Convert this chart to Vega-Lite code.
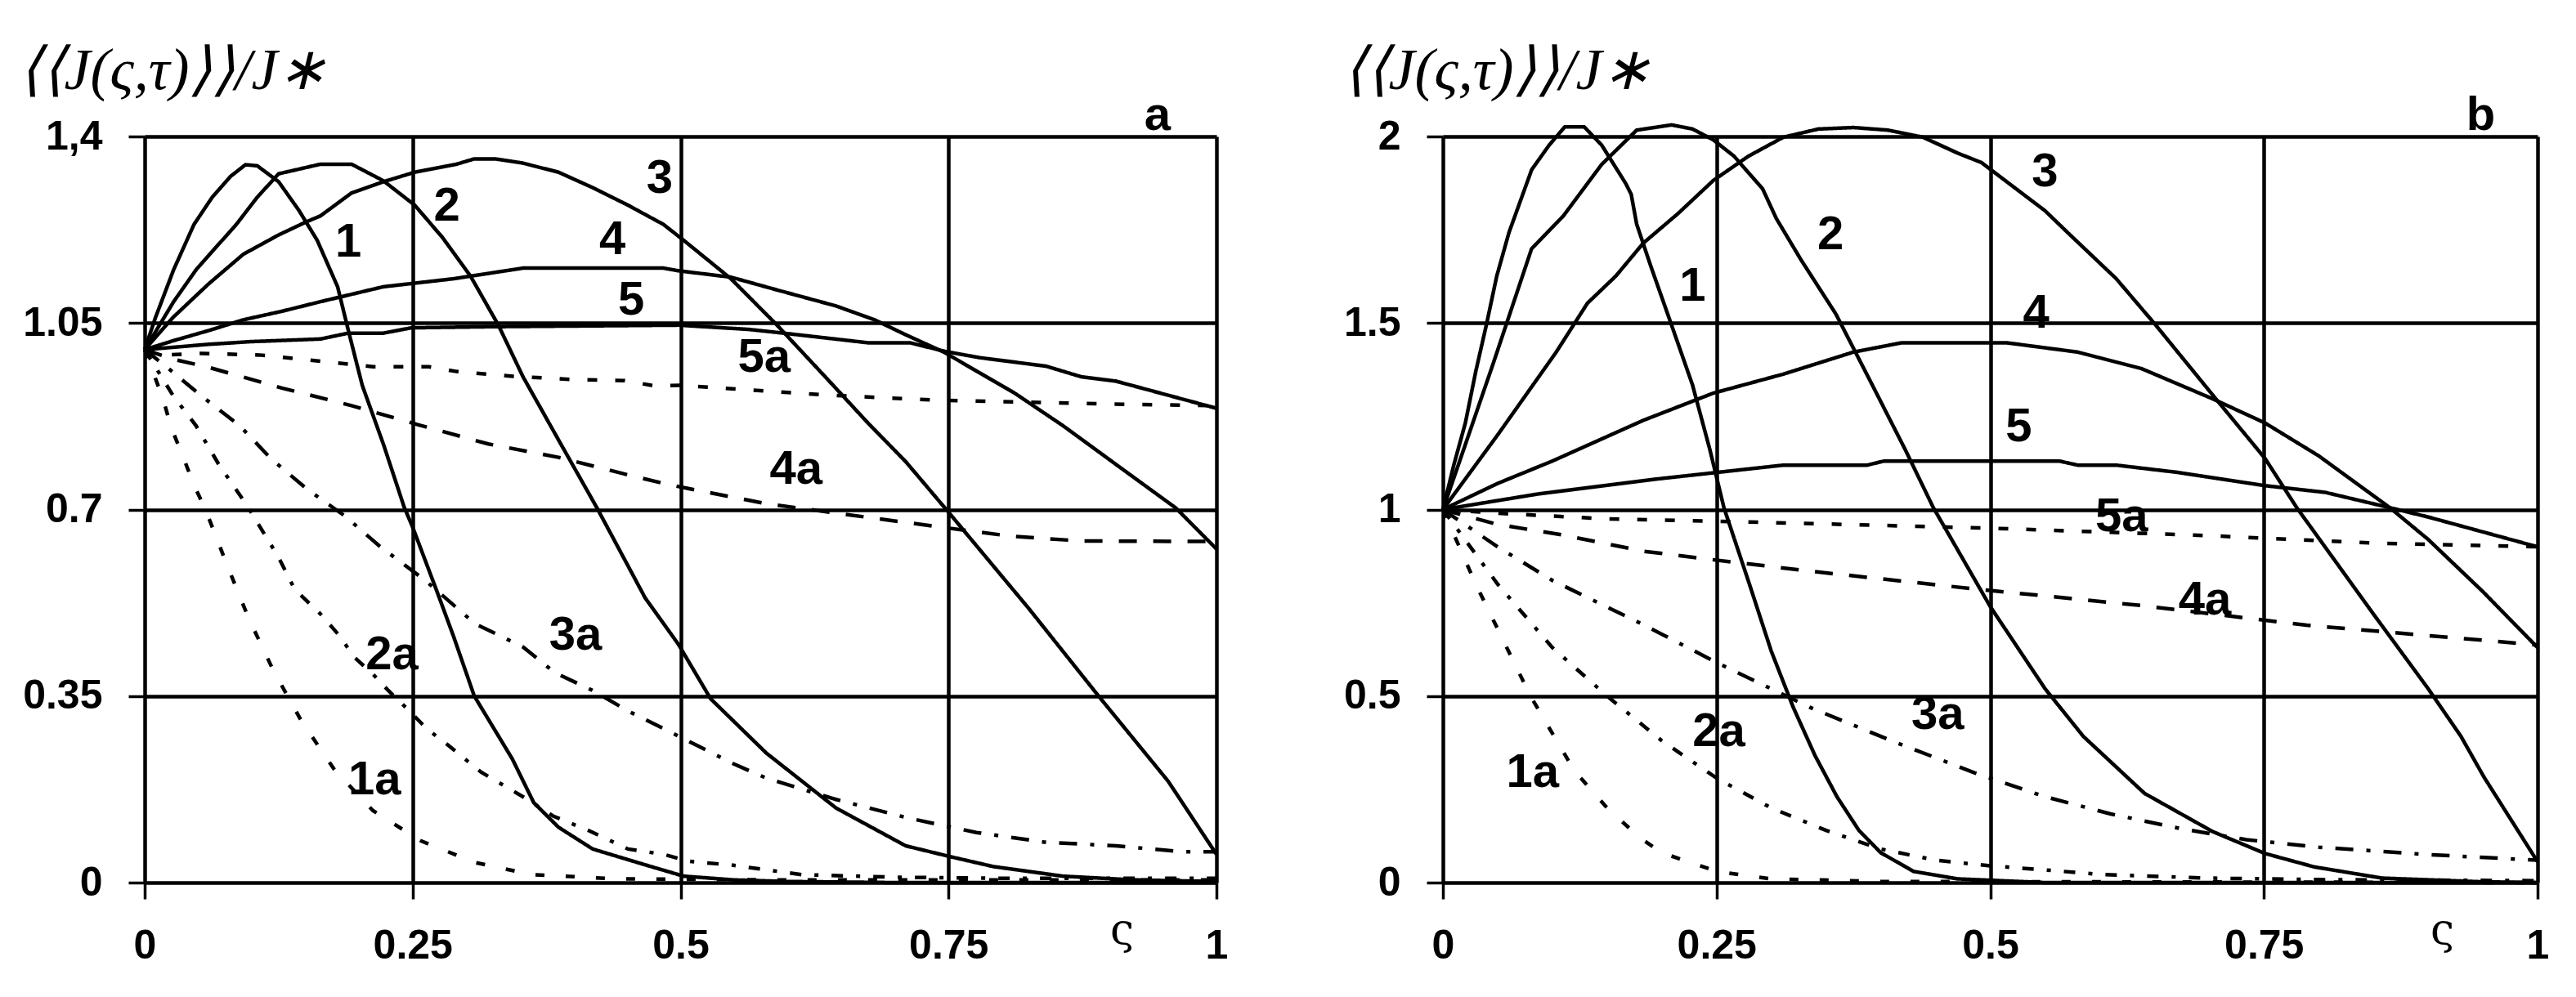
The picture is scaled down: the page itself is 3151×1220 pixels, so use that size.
{
  "$schema": "https://vega.github.io/schema/vega-lite/v6.json",
  "background": "white",
  "padding": {"left": 22, "top": 50, "right": 10, "bottom": 10},
  "config": {
    "view": {"stroke": null},
    "concat": {"spacing": 140},
    "axis": {
      "grid": true, "gridColor": "black", "gridWidth": 4.5, "gridOpacity": 1,
      "domain": false, "tickColor": "black", "tickWidth": 3.5, "tickSize": 20,
      "labelFont": "Liberation Sans", "labelFontWeight": "bold", "labelFontSize": 50,
      "labelColor": "black", "labelPadding": 32, "labelOverlap": false, "labelFlush": false,
      "format": "~g"
    }
  },
  "datasets": {
    "a": [
      {"c":"1","x":0,"y":1.0},{"c":"1","x":0.01,"y":1.06},{"c":"1","x":0.027,"y":1.15},{"c":"1","x":0.046,"y":1.235},{"c":"1","x":0.063,"y":1.286},{"c":"1","x":0.08,"y":1.325},{"c":"1","x":0.094,"y":1.347},{"c":"1","x":0.105,"y":1.345},{"c":"1","x":0.125,"y":1.315},{"c":"1","x":0.144,"y":1.261},{"c":"1","x":0.161,"y":1.205},{"c":"1","x":0.18,"y":1.118},{"c":"1","x":0.19,"y":1.036},{"c":"1","x":0.203,"y":0.933},{"c":"1","x":0.223,"y":0.821},{"c":"1","x":0.242,"y":0.705},{"c":"1","x":0.25,"y":0.667},{"c":"1","x":0.272,"y":0.55},{"c":"1","x":0.288,"y":0.463},{"c":"1","x":0.3075,"y":0.35},{"c":"1","x":0.343,"y":0.232},{"c":"1","x":0.363,"y":0.15},{"c":"1","x":0.386,"y":0.104},{"c":"1","x":0.418,"y":0.063},{"c":"1","x":0.4675,"y":0.033},{"c":"1","x":0.503,"y":0.012},{"c":"1","x":0.55,"y":0.005},{"c":"1","x":0.6,"y":0.002},{"c":"1","x":0.7,"y":0.0},{"c":"1","x":1.0,"y":0.0},
      {"c":"2","x":0,"y":1.0},{"c":"2","x":0.027,"y":1.09},{"c":"2","x":0.048,"y":1.15},{"c":"2","x":0.07,"y":1.2},{"c":"2","x":0.0855,"y":1.235},{"c":"2","x":0.105,"y":1.286},{"c":"2","x":0.125,"y":1.33},{"c":"2","x":0.164,"y":1.348},{"c":"2","x":0.193,"y":1.348},{"c":"2","x":0.2226,"y":1.317},{"c":"2","x":0.252,"y":1.271},{"c":"2","x":0.278,"y":1.21},{"c":"2","x":0.304,"y":1.138},{"c":"2","x":0.33,"y":1.046},{"c":"2","x":0.353,"y":0.949},{"c":"2","x":0.386,"y":0.831},{"c":"2","x":0.422,"y":0.703},{"c":"2","x":0.467,"y":0.534},{"c":"2","x":0.498,"y":0.447},{"c":"2","x":0.528,"y":0.345},{"c":"2","x":0.58,"y":0.243},{"c":"2","x":0.645,"y":0.14},{"c":"2","x":0.71,"y":0.069},{"c":"2","x":0.753,"y":0.048},{"c":"2","x":0.792,"y":0.03},{"c":"2","x":0.857,"y":0.012},{"c":"2","x":0.923,"y":0.005},{"c":"2","x":1.0,"y":0.002},
      {"c":"3","x":0,"y":1.0},{"c":"3","x":0.0267,"y":1.061},{"c":"3","x":0.0594,"y":1.123},{"c":"3","x":0.092,"y":1.179},{"c":"3","x":0.1247,"y":1.215},{"c":"3","x":0.151,"y":1.24},{"c":"3","x":0.164,"y":1.251},{"c":"3","x":0.193,"y":1.294},{"c":"3","x":0.2226,"y":1.315},{"c":"3","x":0.252,"y":1.333},{"c":"3","x":0.291,"y":1.348},{"c":"3","x":0.3075,"y":1.358},{"c":"3","x":0.327,"y":1.358},{"c":"3","x":0.353,"y":1.35},{"c":"3","x":0.386,"y":1.333},{"c":"3","x":0.418,"y":1.304},{"c":"3","x":0.451,"y":1.271},{"c":"3","x":0.484,"y":1.235},{"c":"3","x":0.503,"y":1.205},{"c":"3","x":0.547,"y":1.133},{"c":"3","x":0.59,"y":1.046},{"c":"3","x":0.635,"y":0.949},{"c":"3","x":0.675,"y":0.862},{"c":"3","x":0.71,"y":0.79},{"c":"3","x":0.75,"y":0.695},{"c":"3","x":0.825,"y":0.514},{"c":"3","x":0.89,"y":0.35},{"c":"3","x":0.955,"y":0.19},{"c":"3","x":1.0,"y":0.053},
      {"c":"4","x":0,"y":1.0},{"c":"4","x":0.027,"y":1.017},{"c":"4","x":0.06,"y":1.036},{"c":"4","x":0.092,"y":1.056},{"c":"4","x":0.128,"y":1.072},{"c":"4","x":0.164,"y":1.09},{"c":"4","x":0.2226,"y":1.118},{"c":"4","x":0.288,"y":1.133},{"c":"4","x":0.353,"y":1.153},{"c":"4","x":0.42,"y":1.153},{"c":"4","x":0.484,"y":1.153},{"c":"4","x":0.498,"y":1.148},{"c":"4","x":0.547,"y":1.136},{"c":"4","x":0.59,"y":1.112},{"c":"4","x":0.645,"y":1.082},{"c":"4","x":0.681,"y":1.056},{"c":"4","x":0.71,"y":1.028},{"c":"4","x":0.746,"y":0.995},{"c":"4","x":0.812,"y":0.918},{"c":"4","x":0.857,"y":0.857},{"c":"4","x":0.906,"y":0.785},{"c":"4","x":0.962,"y":0.703},{"c":"4","x":1.0,"y":0.626},
      {"c":"5","x":0,"y":1.0},{"c":"5","x":0.03,"y":1.005},{"c":"5","x":0.0594,"y":1.01},{"c":"5","x":0.0986,"y":1.015},{"c":"5","x":0.164,"y":1.02},{"c":"5","x":0.19,"y":1.031},{"c":"5","x":0.2226,"y":1.031},{"c":"5","x":0.249,"y":1.041},{"c":"5","x":0.32,"y":1.043},{"c":"5","x":0.498,"y":1.046},{"c":"5","x":0.5636,"y":1.038},{"c":"5","x":0.596,"y":1.031},{"c":"5","x":0.6746,"y":1.013},{"c":"5","x":0.714,"y":1.013},{"c":"5","x":0.746,"y":0.997},{"c":"5","x":0.779,"y":0.985},{"c":"5","x":0.841,"y":0.969},{"c":"5","x":0.874,"y":0.949},{"c":"5","x":0.906,"y":0.941},{"c":"5","x":1.0,"y":0.89},
      {"c":"5a","x":0,"y":1.0},{"c":"5a","x":0.02,"y":0.99},{"c":"5a","x":0.053,"y":0.993},{"c":"5a","x":0.107,"y":0.99},{"c":"5a","x":0.1746,"y":0.976},{"c":"5a","x":0.2128,"y":0.968},{"c":"5a","x":0.265,"y":0.968},{"c":"5a","x":0.291,"y":0.959},{"c":"5a","x":0.3434,"y":0.95},{"c":"5a","x":0.399,"y":0.944},{"c":"5a","x":0.448,"y":0.942},{"c":"5a","x":0.4756,"y":0.932},{"c":"5a","x":0.5,"y":0.933},{"c":"5a","x":0.635,"y":0.915},{"c":"5a","x":0.74,"y":0.905},{"c":"5a","x":0.897,"y":0.898},{"c":"5a","x":1.0,"y":0.895},
      {"c":"4a","x":0,"y":1.0},{"c":"4a","x":0.0267,"y":0.982},{"c":"4a","x":0.0594,"y":0.967},{"c":"4a","x":0.128,"y":0.928},{"c":"4a","x":0.193,"y":0.895},{"c":"4a","x":0.2553,"y":0.859},{"c":"4a","x":0.3206,"y":0.823},{"c":"4a","x":0.386,"y":0.798},{"c":"4a","x":0.451,"y":0.765},{"c":"4a","x":0.484,"y":0.749},{"c":"4a","x":0.508,"y":0.739},{"c":"4a","x":0.58,"y":0.711},{"c":"4a","x":0.676,"y":0.685},{"c":"4a","x":0.743,"y":0.667},{"c":"4a","x":0.808,"y":0.65},{"c":"4a","x":0.874,"y":0.641},{"c":"4a","x":1.0,"y":0.64},
      {"c":"3a","x":0,"y":1.0},{"c":"3a","x":0.025,"y":0.96},{"c":"3a","x":0.053,"y":0.913},{"c":"3a","x":0.0888,"y":0.857},{"c":"3a","x":0.118,"y":0.795},{"c":"3a","x":0.151,"y":0.739},{"c":"3a","x":0.1867,"y":0.688},{"c":"3a","x":0.2193,"y":0.631},{"c":"3a","x":0.2618,"y":0.567},{"c":"3a","x":0.308,"y":0.486},{"c":"3a","x":0.353,"y":0.442},{"c":"3a","x":0.3826,"y":0.394},{"c":"3a","x":0.4185,"y":0.36},{"c":"3a","x":0.451,"y":0.322},{"c":"3a","x":0.484,"y":0.289},{"c":"3a","x":0.5147,"y":0.258},{"c":"3a","x":0.547,"y":0.225},{"c":"3a","x":0.58,"y":0.196},{"c":"3a","x":0.645,"y":0.156},{"c":"3a","x":0.7105,"y":0.122},{"c":"3a","x":0.776,"y":0.094},{"c":"3a","x":0.839,"y":0.076},{"c":"3a","x":0.906,"y":0.069},{"c":"3a","x":0.968,"y":0.058},{"c":"3a","x":1.0,"y":0.058},
      {"c":"2a","x":0,"y":1.0},{"c":"2a","x":0.0267,"y":0.913},{"c":"2a","x":0.048,"y":0.857},{"c":"2a","x":0.069,"y":0.785},{"c":"2a","x":0.0953,"y":0.708},{"c":"2a","x":0.1247,"y":0.611},{"c":"2a","x":0.14,"y":0.55},{"c":"2a","x":0.164,"y":0.504},{"c":"2a","x":0.1818,"y":0.463},{"c":"2a","x":0.195,"y":0.424},{"c":"2a","x":0.213,"y":0.391},{"c":"2a","x":0.2275,"y":0.36},{"c":"2a","x":0.247,"y":0.322},{"c":"2a","x":0.263,"y":0.289},{"c":"2a","x":0.283,"y":0.258},{"c":"2a","x":0.314,"y":0.207},{"c":"2a","x":0.353,"y":0.161},{"c":"2a","x":0.381,"y":0.125},{"c":"2a","x":0.415,"y":0.097},{"c":"2a","x":0.451,"y":0.063},{"c":"2a","x":0.484,"y":0.053},{"c":"2a","x":0.508,"y":0.04},{"c":"2a","x":0.547,"y":0.033},{"c":"2a","x":0.613,"y":0.015},{"c":"2a","x":0.7,"y":0.01},{"c":"2a","x":0.8,"y":0.008},{"c":"2a","x":1.0,"y":0.008},
      {"c":"1a","x":0,"y":1.0},{"c":"1a","x":0.017,"y":0.908},{"c":"1a","x":0.0251,"y":0.852},{"c":"1a","x":0.0366,"y":0.795},{"c":"1a","x":0.0463,"y":0.744},{"c":"1a","x":0.0561,"y":0.703},{"c":"1a","x":0.0774,"y":0.593},{"c":"1a","x":0.097,"y":0.496},{"c":"1a","x":0.1198,"y":0.399},{"c":"1a","x":0.146,"y":0.304},{"c":"1a","x":0.177,"y":0.212},{"c":"1a","x":0.213,"y":0.135},{"c":"1a","x":0.257,"y":0.079},{"c":"1a","x":0.3075,"y":0.038},{"c":"1a","x":0.361,"y":0.015},{"c":"1a","x":0.441,"y":0.007},{"c":"1a","x":0.6,"y":0.005},{"c":"1a","x":1.0,"y":0.005}
    ],
    "b": [
      {"c":"1","x":0,"y":1.0},{"c":"1","x":0.01,"y":1.12},{"c":"1","x":0.0205,"y":1.232},{"c":"1","x":0.03,"y":1.37},{"c":"1","x":0.0397,"y":1.495},{"c":"1","x":0.0492,"y":1.626},{"c":"1","x":0.0604,"y":1.743},{"c":"1","x":0.0811,"y":1.911},{"c":"1","x":0.0971,"y":1.977},{"c":"1","x":0.1114,"y":2.026},{"c":"1","x":0.129,"y":2.026},{"c":"1","x":0.145,"y":1.977},{"c":"1","x":0.167,"y":1.874},{"c":"1","x":0.172,"y":1.845},{"c":"1","x":0.177,"y":1.765},{"c":"1","x":0.1896,"y":1.655},{"c":"1","x":0.2088,"y":1.495},{"c":"1","x":0.228,"y":1.334},{"c":"1","x":0.244,"y":1.159},{"c":"1","x":0.2567,"y":1.005},{"c":"1","x":0.28,"y":0.8},{"c":"1","x":0.3,"y":0.62},{"c":"1","x":0.32,"y":0.47},{"c":"1","x":0.34,"y":0.34},{"c":"1","x":0.36,"y":0.23},{"c":"1","x":0.38,"y":0.14},{"c":"1","x":0.4,"y":0.08},{"c":"1","x":0.43,"y":0.03},{"c":"1","x":0.47,"y":0.01},{"c":"1","x":0.55,"y":0.0},{"c":"1","x":1.0,"y":0.0},
      {"c":"2","x":0,"y":1.0},{"c":"2","x":0.02,"y":1.17},{"c":"2","x":0.046,"y":1.392},{"c":"2","x":0.081,"y":1.699},{"c":"2","x":0.11,"y":1.787},{"c":"2","x":0.145,"y":1.925},{"c":"2","x":0.177,"y":2.017},{"c":"2","x":0.209,"y":2.031},{"c":"2","x":0.228,"y":2.02},{"c":"2","x":0.247,"y":1.991},{"c":"2","x":0.266,"y":1.947},{"c":"2","x":0.292,"y":1.86},{"c":"2","x":0.3046,"y":1.78},{"c":"2","x":0.327,"y":1.67},{"c":"2","x":0.359,"y":1.524},{"c":"2","x":0.391,"y":1.341},{"c":"2","x":0.4226,"y":1.159},{"c":"2","x":0.448,"y":1.005},{"c":"2","x":0.5,"y":0.74},{"c":"2","x":0.55,"y":0.52},{"c":"2","x":0.585,"y":0.392},{"c":"2","x":0.641,"y":0.239},{"c":"2","x":0.703,"y":0.137},{"c":"2","x":0.751,"y":0.078},{"c":"2","x":0.796,"y":0.042},{"c":"2","x":0.858,"y":0.012},{"c":"2","x":0.95,"y":0.002},{"c":"2","x":1.0,"y":0.0},
      {"c":"3","x":0,"y":1.0},{"c":"3","x":0.05,"y":1.2},{"c":"3","x":0.1035,"y":1.422},{"c":"3","x":0.132,"y":1.553},{"c":"3","x":0.158,"y":1.626},{"c":"3","x":0.183,"y":1.714},{"c":"3","x":0.215,"y":1.794},{"c":"3","x":0.247,"y":1.882},{"c":"3","x":0.279,"y":1.947},{"c":"3","x":0.311,"y":1.998},{"c":"3","x":0.343,"y":2.02},{"c":"3","x":0.375,"y":2.024},{"c":"3","x":0.4066,"y":2.017},{"c":"3","x":0.4385,"y":1.998},{"c":"3","x":0.4705,"y":1.955},{"c":"3","x":0.492,"y":1.93},{"c":"3","x":0.55,"y":1.801},{"c":"3","x":0.573,"y":1.736},{"c":"3","x":0.615,"y":1.619},{"c":"3","x":0.651,"y":1.495},{"c":"3","x":0.706,"y":1.297},{"c":"3","x":0.751,"y":1.137},{"c":"3","x":0.78,"y":1.005},{"c":"3","x":0.85,"y":0.72},{"c":"3","x":0.9,"y":0.52},{"c":"3","x":0.93,"y":0.392},{"c":"3","x":0.951,"y":0.283},{"c":"3","x":1.0,"y":0.056},
      {"c":"4","x":0,"y":1.0},{"c":"4","x":0.05,"y":1.07},{"c":"4","x":0.1,"y":1.13},{"c":"4","x":0.183,"y":1.239},{"c":"4","x":0.247,"y":1.312},{"c":"4","x":0.311,"y":1.363},{"c":"4","x":0.375,"y":1.422},{"c":"4","x":0.419,"y":1.447},{"c":"4","x":0.515,"y":1.447},{"c":"4","x":0.58,"y":1.422},{"c":"4","x":0.638,"y":1.378},{"c":"4","x":0.703,"y":1.297},{"c":"4","x":0.751,"y":1.232},{"c":"4","x":0.8,"y":1.144},{"c":"4","x":0.865,"y":1.005},{"c":"4","x":0.9,"y":0.92},{"c":"4","x":0.95,"y":0.78},{"c":"4","x":1.0,"y":0.63},
      {"c":"5","x":0,"y":1.0},{"c":"5","x":0.0875,"y":1.042},{"c":"5","x":0.196,"y":1.082},{"c":"5","x":0.311,"y":1.119},{"c":"5","x":0.3875,"y":1.119},{"c":"5","x":0.403,"y":1.13},{"c":"5","x":0.563,"y":1.13},{"c":"5","x":0.58,"y":1.119},{"c":"5","x":0.615,"y":1.119},{"c":"5","x":0.67,"y":1.1},{"c":"5","x":0.751,"y":1.064},{"c":"5","x":0.806,"y":1.046},{"c":"5","x":0.865,"y":1.005},{"c":"5","x":0.9,"y":0.98},{"c":"5","x":0.95,"y":0.94},{"c":"5","x":1.0,"y":0.9},
      {"c":"5a","x":0,"y":1.0},{"c":"5a","x":0.05,"y":0.99},{"c":"5a","x":0.15,"y":0.975},{"c":"5a","x":0.3,"y":0.965},{"c":"5a","x":0.5,"y":0.95},{"c":"5a","x":0.7,"y":0.93},{"c":"5a","x":0.85,"y":0.91},{"c":"5a","x":1.0,"y":0.9},
      {"c":"4a","x":0,"y":1.0},{"c":"4a","x":0.05,"y":0.96},{"c":"4a","x":0.109,"y":0.932},{"c":"4a","x":0.184,"y":0.888},{"c":"4a","x":0.245,"y":0.866},{"c":"4a","x":0.335,"y":0.835},{"c":"4a","x":0.486,"y":0.787},{"c":"4a","x":0.637,"y":0.743},{"c":"4a","x":0.789,"y":0.69},{"c":"4a","x":1.0,"y":0.637},
      {"c":"3a","x":0,"y":1.0},{"c":"3a","x":0.05,"y":0.9},{"c":"3a","x":0.1,"y":0.81},{"c":"3a","x":0.184,"y":0.69},{"c":"3a","x":0.25,"y":0.59},{"c":"3a","x":0.335,"y":0.47},{"c":"3a","x":0.41,"y":0.38},{"c":"3a","x":0.486,"y":0.294},{"c":"3a","x":0.548,"y":0.232},{"c":"3a","x":0.61,"y":0.184},{"c":"3a","x":0.675,"y":0.144},{"c":"3a","x":0.734,"y":0.115},{"c":"3a","x":0.8,"y":0.095},{"c":"3a","x":0.9,"y":0.075},{"c":"3a","x":1.0,"y":0.06},
      {"c":"2a","x":0,"y":1.0},{"c":"2a","x":0.05,"y":0.8},{"c":"2a","x":0.1,"y":0.63},{"c":"2a","x":0.15,"y":0.5},{"c":"2a","x":0.2,"y":0.38},{"c":"2a","x":0.25,"y":0.28},{"c":"2a","x":0.3,"y":0.2},{"c":"2a","x":0.35,"y":0.14},{"c":"2a","x":0.4,"y":0.09},{"c":"2a","x":0.45,"y":0.06},{"c":"2a","x":0.5,"y":0.045},{"c":"2a","x":0.55,"y":0.034},{"c":"2a","x":0.6,"y":0.022},{"c":"2a","x":0.7,"y":0.012},{"c":"2a","x":0.8,"y":0.008},{"c":"2a","x":1.0,"y":0.005},
      {"c":"1a","x":0,"y":1.0},{"c":"1a","x":0.03,"y":0.8},{"c":"1a","x":0.05,"y":0.68},{"c":"1a","x":0.08,"y":0.5},{"c":"1a","x":0.1,"y":0.4},{"c":"1a","x":0.12,"y":0.3},{"c":"1a","x":0.15,"y":0.2},{"c":"1a","x":0.18,"y":0.12},{"c":"1a","x":0.2,"y":0.08},{"c":"1a","x":0.25,"y":0.03},{"c":"1a","x":0.3,"y":0.01},{"c":"1a","x":0.4,"y":0.003},{"c":"1a","x":1.0,"y":0.0}
    ],
    "labA": [
      {"c":"1","x":0.19,"y":1.2},{"c":"2","x":0.282,"y":1.268},{"c":"3","x":0.4805,"y":1.32},{"c":"4","x":0.4364,"y":1.205},{"c":"5","x":0.454,"y":1.092},
      {"c":"5a","x":0.578,"y":0.985},{"c":"4a","x":0.6077,"y":0.775},{"c":"3a","x":0.402,"y":0.4626},{"c":"2a","x":0.2308,"y":0.427},{"c":"1a","x":0.2145,"y":0.191}
    ],
    "labB": [
      {"c":"1","x":0.228,"y":1.597},{"c":"2","x":0.354,"y":1.736},{"c":"3","x":0.55,"y":1.904},{"c":"4","x":0.542,"y":1.524},{"c":"5","x":0.526,"y":1.221},
      {"c":"5a","x":0.62,"y":0.98},{"c":"4a","x":0.696,"y":0.756},{"c":"3a","x":0.452,"y":0.448},{"c":"2a","x":0.252,"y":0.404},{"c":"1a","x":0.082,"y":0.294}
    ],
    "panA": [{"c":"a","x":0.945,"y":1.4}],
    "panB": [{"c":"b","x":0.948,"y":2.0}]
  },
  "hconcat": [
    {
      "width": 1311, "height": 913,
      "layer": [
        {
          "data": {"name": "a"},
          "mark": {"type": "line", "strokeWidth": 4.5, "color": "black", "clip": false},
          "encoding": {
            "x": {"field": "x", "type": "quantitative", "scale": {"domain": [0, 1], "nice": false},
                  "axis": {"values": [0, 0.25, 0.5, 0.75, 1], "title": "ς", "titleFont": "DejaVu Serif", "titleFontWeight": "normal", "titleFontSize": 52, "titleColor": "black", "titleX": 1195, "titleY": 58, "titleAlign": "center", "titleBaseline": "middle", "titleAngle": 0}},
            "y": {"field": "y", "type": "quantitative", "scale": {"domain": [0, 1.4], "nice": false},
                  "axis": {"values": [0, 0.35, 0.7, 1.05, 1.4], "labelExpr": "datum.value == 1.4 ? '1,4' : datum.label",
                           "title": "⟨⟨J(ς,τ)⟩⟩/J∗", "titleFont": "Liberation Serif", "titleFontStyle": "italic", "titleFontWeight": "normal", "titleFontSize": 72, "titleColor": "black", "titleAngle": 0, "titleAlign": "left", "titleBaseline": "alphabetic", "titleX": -155, "titleY": -59}},
            "detail": {"field": "c"},
            "strokeDash": {"field": "c", "type": "nominal", "legend": null,
              "scale": {"domain": ["1","2","3","4","5","5a","4a","3a","2a","1a"],
                        "range": [[1,0],[1,0],[1,0],[1,0],[1,0],[12,22],[22,20],[22,16,5,16],[14,16,5,16],[11,26]]}}
          }
        },
        {
          "data": {"name": "labA"},
          "mark": {"type": "text", "font": "Liberation Sans", "fontWeight": "bold", "fontSize": 58, "color": "black", "align": "center", "baseline": "middle"},
          "encoding": {
            "x": {"field": "x", "type": "quantitative"},
            "y": {"field": "y", "type": "quantitative"},
            "text": {"field": "c"}
          }
        },
        {
          "data": {"name": "panA"},
          "mark": {"type": "text", "font": "Liberation Sans", "fontWeight": "bold", "fontSize": 58, "color": "black", "align": "center", "baseline": "alphabetic", "dy": -8},
          "encoding": {
            "x": {"field": "x", "type": "quantitative"},
            "y": {"field": "y", "type": "quantitative"},
            "text": {"field": "c"}
          }
        }
      ]
    },
    {
      "width": 1339, "height": 913,
      "layer": [
        {
          "data": {"name": "b"},
          "mark": {"type": "line", "strokeWidth": 4.5, "color": "black", "clip": false},
          "encoding": {
            "x": {"field": "x", "type": "quantitative", "scale": {"domain": [0, 1], "nice": false},
                  "axis": {"values": [0, 0.25, 0.5, 0.75, 1], "title": "ς", "titleFont": "DejaVu Serif", "titleFontWeight": "normal", "titleFontSize": 52, "titleColor": "black", "titleX": 1222, "titleY": 58, "titleAlign": "center", "titleBaseline": "middle", "titleAngle": 0}},
            "y": {"field": "y", "type": "quantitative", "scale": {"domain": [0, 2], "nice": false},
                  "axis": {"values": [0, 0.5, 1, 1.5, 2],
                           "title": "⟨⟨J(ς,τ)⟩⟩/J∗", "titleFont": "Liberation Serif", "titleFontStyle": "italic", "titleFontWeight": "normal", "titleFontSize": 72, "titleColor": "black", "titleAngle": 0, "titleAlign": "left", "titleBaseline": "alphabetic", "titleX": -123, "titleY": -59}},
            "detail": {"field": "c"},
            "strokeDash": {"field": "c", "type": "nominal", "legend": null,
              "scale": {"domain": ["1","2","3","4","5","5a","4a","3a","2a","1a"],
                        "range": [[1,0],[1,0],[1,0],[1,0],[1,0],[12,22],[22,20],[22,16,5,16],[14,16,5,16],[11,26]]}}
          }
        },
        {
          "data": {"name": "labB"},
          "mark": {"type": "text", "font": "Liberation Sans", "fontWeight": "bold", "fontSize": 58, "color": "black", "align": "center", "baseline": "middle"},
          "encoding": {
            "x": {"field": "x", "type": "quantitative"},
            "y": {"field": "y", "type": "quantitative"},
            "text": {"field": "c"}
          }
        },
        {
          "data": {"name": "panB"},
          "mark": {"type": "text", "font": "Liberation Sans", "fontWeight": "bold", "fontSize": 58, "color": "black", "align": "center", "baseline": "alphabetic", "dy": -8},
          "encoding": {
            "x": {"field": "x", "type": "quantitative"},
            "y": {"field": "y", "type": "quantitative"},
            "text": {"field": "c"}
          }
        }
      ]
    }
  ]
}
